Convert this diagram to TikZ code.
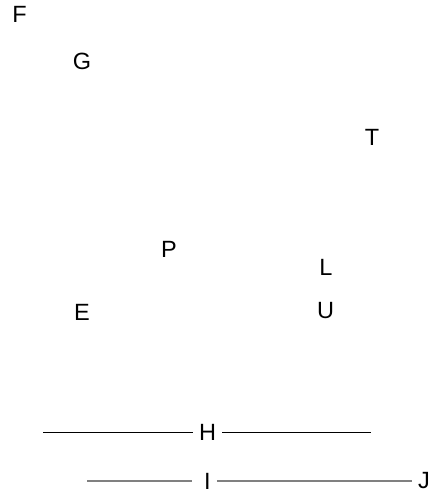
\documentclass[tikz,border=0pt]{standalone}
\usepackage{fontspec}
\setmainfont{Liberation Sans}
\begin{document}
\begin{tikzpicture}[x=1pt, y=-1pt, every node/.style={font=\fontsize{23.5}{28}\selectfont, inner sep=6pt}]
  \useasboundingbox (0,0) rectangle (429,496);
  \node (F) at (19.5,14.5) {F};
  \node (G) at (82,61.5) {G};
  \node (T) at (372,137) {T};
  \node (P) at (169,249) {P};
  \node (L) at (326,267) {L};
  \node (E) at (82,312) {E};
  \node (U) at (325.5,311) {U};
  % bottom rows
  \node (H) at (207.5,432) {H};
  \coordinate (hL) at (43,432); \coordinate (hR) at (371,432);
  \draw[black, line width=1pt] (hL) -- (H) -- (hR);
  \node (I) at (207.5,481) {I};
  \node (J) at (424,481) {J};
  \coordinate (iL) at (87,481);
  \draw[gray, line width=1.8pt, shorten >=6pt] (iL) -- (I);
  \draw[gray, line width=1.8pt] (I) -- (J);
\end{tikzpicture}
\end{document}
